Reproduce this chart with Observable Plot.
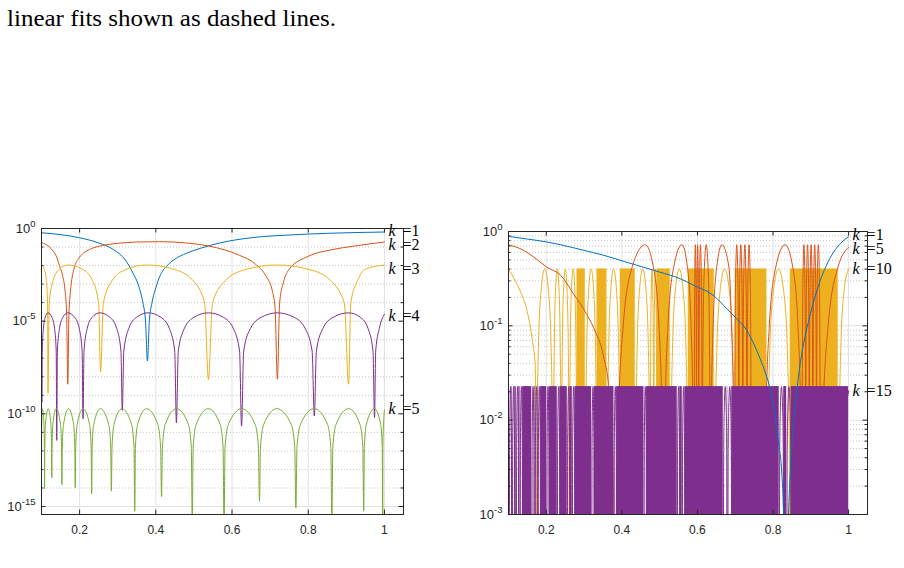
<!DOCTYPE html>
<html>
<head>
<meta charset="utf-8">
<script src="https://cdn.jsdelivr.net/npm/d3@7"></script>
<script src="https://cdn.jsdelivr.net/npm/@observablehq/plot@0.6"></script>
<style>
  html, body { margin: 0; padding: 0; background: #fff; }
  body { width: 904px; height: 568px; position: relative; overflow: hidden; }
  #caption { position: absolute; left: 0; top: 0; }
  #left { position: absolute; left: 0; top: 210px; }
  #right { position: absolute; left: 452px; top: 210px; }
</style>
</head>
<body>
<svg id="caption" width="904" height="40">
  <text x="7" y="26" font-family="'Liberation Serif', 'Times New Roman', serif" font-size="24" textLength="329" lengthAdjust="spacingAndGlyphs" fill="#000">linear fits shown as dashed lines.</text>
</svg>
<div id="left"></div>
<div id="right"></div>
<script>
// ---- shared axis values ----
const xTicks = [0.2, 0.4, 0.6, 0.8, 1];

// left panel: decades of |error|
const leftMajorExp = [0, -5, -10, -15];
const leftMinorExp = [-1, -2, -3, -4, -6, -7, -8, -9, -11, -12, -13, -14];

// right panel: decades and in-between values
const rightMajorExp = [0, -1, -2, -3];
const rightMinorVals = [0.002, 0.003, 0.004, 0.005, 0.006, 0.007, 0.008, 0.009,
                        0.02, 0.03, 0.04, 0.05, 0.06, 0.07, 0.08, 0.09,
                        0.2, 0.3, 0.4, 0.5, 0.6, 0.7, 0.8, 0.9];

// ---- left panel series: [x, log10 value] ----
const leftK1 = [[0.1,-0.23],[0.15,-0.33],[0.2,-0.5],[0.25,-0.78],[0.29,-1.15],[0.32,-1.7],[0.34,-2.4],[0.355,-3.1],[0.366,-4.0],[0.373,-5.0],[0.378,-7.15],[0.383,-5.0],[0.39,-4.0],[0.4,-3.2],[0.41,-2.6],[0.43,-2.0],[0.45,-1.65],[0.48,-1.34],[0.52,-1.05],[0.57,-0.77],[0.65,-0.5],[0.75,-0.35],[0.85,-0.26],[1.0,-0.19]];

const leftK2 = [[0.1,-0.75],[0.11,-0.85],[0.12,-0.98],[0.13,-1.2],[0.14,-1.55],[0.147,-2.0],[0.155,-2.5],[0.162,-3.4],[0.166,-4.6],[0.169,-8.4],[0.172,-4.6],[0.176,-3.4],[0.185,-2.2],[0.2,-1.55],[0.23,-1.1],[0.26,-0.92],[0.3,-0.8],[0.35,-0.73],[0.41,-0.71],[0.48,-0.78],[0.54,-0.95],[0.58,-1.15],[0.62,-1.45],[0.66,-1.9],[0.69,-2.6],[0.705,-3.3],[0.713,-4.3],[0.719,-8.13],[0.725,-4.0],[0.735,-2.9],[0.75,-2.2],[0.8,-1.5],[0.86,-1.15],[0.92,-0.95],[1.0,-0.73]];

const leftK3 = [[0.1,-1.97],[0.1076,-2.21],[0.1128,-2.81],[0.116,-4.03],[0.117,-8.9],[0.1202,-4.03],[0.1303,-2.81],[0.1462,-2.21],[0.17,-1.97],[0.2083,-2.21],[0.2338,-2.81],[0.2499,-4.03],[0.255,-7.74],[0.2623,-4.03],[0.2853,-2.81],[0.3216,-2.21],[0.376,-1.97],[0.4489,-2.21],[0.4975,-2.81],[0.5283,-4.03],[0.538,-8.15],[0.5487,-4.03],[0.5828,-2.81],[0.6366,-2.21],[0.717,-1.97],[0.802,-2.21],[0.8587,-2.81],[0.8947,-4.03],[0.906,-8.4],[0.9116,-4.03],[0.9295,-2.81],[0.9483,-2.21],[1.0,-1.97]];

const leftK4 = [[0.1,-7.0],[0.101,-9.36],
  [0.102,-6.61],[0.105,-5.39],[0.1098,-4.79],[0.117,-4.55],[0.1274,-4.79],[0.1342,-5.39],[0.1386,-6.61],[0.14,-11.43],
  [0.1417,-6.61],[0.1473,-5.39],[0.156,-4.79],[0.169,-4.55],[0.187,-4.79],[0.199,-5.39],[0.2066,-6.61],[0.209,-10.26],
  [0.2116,-6.61],[0.22,-5.39],[0.2332,-4.79],[0.253,-4.55],[0.2796,-4.79],[0.2973,-5.39],[0.3085,-6.61],[0.312,-9.81],
  [0.3161,-6.61],[0.329,-5.39],[0.3494,-4.79],[0.38,-4.55],[0.4133,-4.79],[0.4355,-5.39],[0.4496,-6.61],[0.454,-10.48],
  [0.459,-6.61],[0.475,-5.39],[0.5002,-4.79],[0.538,-4.55],[0.5772,-4.79],[0.6033,-5.39],[0.6198,-6.61],[0.625,-10.66],
  [0.6306,-6.61],[0.6485,-5.39],[0.6767,-4.79],[0.719,-4.55],[0.7627,-4.79],[0.7918,-5.39],[0.8102,-6.61],[0.816,-10.12],
  [0.8214,-6.61],[0.8385,-5.39],[0.8655,-4.79],[0.906,-4.55],[0.9366,-4.79],[0.957,-5.39],[0.9699,-6.61],[0.974,-10.2],
  [0.977,-6.61],[0.9865,-5.39],[1.0,-4.62]];

const leftK5 = [[0.1,-12.4],[0.1006,-10.56],[0.102,-9.72],[0.1065,-10.56],[0.1076,-11.78],[0.108,-14.04],
  [0.1086,-11.78],[0.1104,-10.56],[0.1176,-9.72],[0.1247,-10.56],[0.1264,-11.78],[0.127,-13.45],
  [0.1277,-11.78],[0.1299,-10.56],[0.1386,-9.72],[0.1498,-10.56],[0.1526,-11.78],[0.1535,-13.81],
  [0.1546,-11.78],[0.1579,-10.56],[0.171,-9.72],[0.1842,-10.56],[0.1875,-11.78],[0.1886,-13.99],
  [0.1898,-11.78],[0.1937,-10.56],[0.209,-9.72],[0.226,-10.56],[0.2302,-11.78],[0.2316,-14.31],
  [0.233,-11.78],[0.2373,-10.56],[0.2544,-9.72],[0.2762,-10.56],[0.2817,-11.78],[0.2834,-14.17],
  [0.2851,-11.78],[0.2903,-10.56],[0.311,-9.72],[0.3363,-10.56],[0.3427,-11.78],[0.3447,-15.25],
  [0.3465,-11.78],[0.3524,-10.56],[0.3755,-9.72],[0.4051,-10.56],[0.4126,-11.78],[0.415,-14.46],
  [0.4174,-11.78],[0.4249,-10.56],[0.4544,-9.72],[0.4853,-10.56],[0.4931,-11.78],[0.4956,-16],
  [0.4981,-11.78],[0.5061,-10.56],[0.5377,-9.72],[0.5687,-10.56],[0.5765,-11.78],[0.579,-16],
  [0.5818,-11.78],[0.5906,-10.56],[0.6255,-9.72],[0.6604,-10.56],[0.6692,-11.78],[0.672,-14.71],
  [0.6747,-11.78],[0.6834,-10.56],[0.7176,-9.72],[0.7551,-10.56],[0.7646,-11.78],[0.7676,-15.07],
  [0.7705,-11.78],[0.7797,-10.56],[0.8158,-9.72],[0.8505,-10.56],[0.8592,-11.78],[0.862,-16],
  [0.8646,-11.78],[0.873,-10.56],[0.906,-9.72],[0.9357,-10.56],[0.9432,-11.78],[0.9456,-15.25],
  [0.9473,-11.78],[0.9526,-10.56],[0.9737,-9.72],[0.9901,-10.56],[0.9942,-11.78],[0.9955,-16],
  [0.9959,-11.78],[0.9978,-10.5],[1.0,-9.78]];

// ---- right panel series: [x, log10 value] ----
const rightK1 = [[0.1,-0.052],[0.15,-0.08],[0.2,-0.11],[0.237,-0.14],[0.3,-0.2],[0.35,-0.25],[0.4135,-0.327],[0.5,-0.43],[0.554,-0.5],[0.59,-0.57],[0.643,-0.68],[0.678,-0.82],[0.705,-0.93],[0.731,-1.05],[0.75,-1.2],[0.766,-1.35],[0.78,-1.5],[0.793,-1.68],[0.805,-1.95],[0.815,-2.25],[0.823,-2.55],[0.828,-3.0],[0.8345,-4.5],[0.841,-3.0],[0.845,-2.6],[0.852,-2.15],[0.859,-1.83],[0.867,-1.55],[0.878,-1.25],[0.89,-1.02],[0.905,-0.78],[0.925,-0.52],[0.94,-0.37],[0.96,-0.22],[0.98,-0.12],[1.0,-0.055]];

const rightK5 = [[0.1,-0.14],[0.14,-0.2],[0.17,-0.28],[0.202,-0.38],[0.237,-0.46],[0.272,-0.66],[0.303,-0.85],[0.325,-1.02],[0.352,-1.33],[0.365,-1.63],[0.375,-2.2],[0.384,-4],
  [0.3891,-2.2],[0.4039,-0.98],[0.427,-0.38],[0.4619,-0.14],[0.4836,-0.38],[0.498,-0.98],[0.5071,-2.2],[0.51,-4],
  [0.5129,-2.2],[0.5223,-0.98],[0.537,-0.38],[0.559,-0.14],[0.5734,-0.38],[0.583,-0.98],[0.5891,-2.2],[0.5915,-4],
  [0.5919,-1.6],[0.5928,-0.55],[0.5945,-0.14],[0.5962,-0.55],[0.5971,-1.6],[0.5975,-4],
  [0.5979,-1.6],[0.5988,-0.55],[0.6005,-0.14],[0.6022,-0.55],[0.6031,-1.6],[0.6035,-4],
  [0.604,-1.6],[0.6055,-0.55],[0.608,-0.14],[0.6105,-0.55],[0.612,-1.6],[0.6125,-4],
  [0.6132,-2.2],[0.6152,-0.98],[0.6184,-0.38],[0.6232,-0.14],[0.6281,-0.38],[0.6313,-0.98],[0.6333,-2.2],[0.634,-4],
  [0.6358,-2.2],[0.6417,-0.98],[0.6509,-0.38],[0.6648,-0.14],[0.6833,-0.38],[0.6901,-0.98],[0.6965,-2.2],[0.6985,-4],
  [0.6991,-1.6],[0.7008,-0.55],[0.704,-0.14],[0.7072,-0.55],[0.7089,-1.6],[0.7095,-4],
  [0.7101,-1.6],[0.7118,-0.55],[0.7148,-0.14],[0.7177,-0.55],[0.7194,-1.6],[0.72,-4],
  [0.7206,-1.6],[0.7224,-0.55],[0.7255,-0.14],[0.7286,-0.55],[0.7304,-1.6],[0.731,-4],
  [0.7317,-1.6],[0.7335,-0.55],[0.7367,-0.14],[0.7398,-0.55],[0.7416,-1.6],[0.7423,-4],
  [0.7767,-4],
  [0.78,-2.2],[0.7905,-0.98],[0.8071,-0.38],[0.832,-0.14],[0.8523,-0.38],[0.8658,-0.98],[0.8743,-2.2],[0.877,-4],
  [0.8776,-1.6],[0.8791,-0.55],[0.8818,-0.14],[0.8844,-0.55],[0.8859,-1.6],[0.8865,-4],
  [0.8871,-1.6],[0.8886,-0.55],[0.8913,-0.14],[0.8939,-0.55],[0.8954,-1.6],[0.896,-4],
  [0.8966,-1.6],[0.8981,-0.55],[0.9008,-0.14],[0.9034,-0.55],[0.9049,-1.6],[0.9055,-4],
  [0.9061,-1.6],[0.9076,-0.55],[0.9103,-0.14],[0.9129,-0.55],[0.9144,-1.6],[0.915,-4],
  [0.9156,-1.6],[0.9172,-0.55],[0.92,-0.14],[0.9228,-0.55],[0.9244,-1.6],[0.925,-4],
  [0.9301,-2.2],[0.9463,-0.98],[0.9718,-0.38],[1.0,-0.17]];

const rightK10 = [[0.1,-0.397],[0.115,-0.5],[0.131,-0.63],[0.149,-0.84],[0.162,-1.12],[0.171,-1.44],[0.1735,-4],
  [0.1749,-2.46],[0.1791,-1.24],[0.1859,-0.64],[0.196,-0.397],[0.2061,-0.64],[0.2129,-1.24],[0.2171,-2.46],[0.2185,-4],
  [0.2191,-2.46],[0.2212,-1.24],[0.2243,-0.64],[0.2291,-0.397],[0.2339,-0.64],[0.237,-1.24],[0.2391,-2.46],[0.2397,-4],
  [0.2403,-2.46],[0.2423,-1.24],[0.2455,-0.64],[0.2503,-0.397],[0.255,-0.64],[0.2582,-1.24],[0.2602,-2.46],[0.2608,-4],
  [0.2614,-2.46],[0.2634,-1.24],[0.2664,-0.64],[0.271,-0.397],[0.2756,-0.64],[0.2786,-1.24],[0.2806,-2.46],[0.2812,-4],
  [0.3032,-4],[0.3041,-2.46],[0.3071,-1.24],[0.3117,-0.64],[0.3186,-0.397],[0.3256,-0.64],[0.3302,-1.24],[0.3332,-2.46],[0.3341,-4],
  [0.3606,-4],[0.3617,-2.46],[0.365,-1.24],[0.3703,-0.64],[0.3782,-0.397],[0.3861,-0.64],[0.3914,-1.24],[0.3947,-2.46],[0.3958,-4],
  [0.4354,-4],[0.4366,-2.46],[0.4404,-1.24],[0.4464,-0.64],[0.4553,-0.397],[0.4642,-0.64],[0.4701,-1.24],[0.4739,-2.46],[0.4751,-4],
  [0.4757,-1.9],[0.4771,-0.8],[0.4797,-0.397],[0.4824,-0.8],[0.4838,-1.9],[0.4844,-4],
  [0.485,-1.9],[0.4863,-0.8],[0.4886,-0.397],[0.4909,-0.8],[0.4922,-1.9],[0.4928,-4],
  [0.528,-4],[0.5294,-2.46],[0.534,-1.24],[0.5411,-0.64],[0.5518,-0.397],[0.5625,-0.64],[0.5697,-1.24],[0.5743,-2.46],[0.5757,-4],
  [0.6444,-4],[0.6461,-2.46],[0.6514,-1.24],[0.6597,-0.64],[0.672,-0.397],[0.6847,-0.64],[0.693,-1.24],[0.6983,-2.46],[0.7,-4],
  [0.7838,-4],[0.7856,-2.46],[0.7915,-1.24],[0.8007,-0.64],[0.8146,-0.397],[0.8285,-0.64],[0.8378,-1.24],[0.8436,-2.46],[0.8455,-4],
  [0.9725,-4],[0.9742,-2.46],[0.9794,-1.24],[0.9876,-0.64],[1.0,-0.397]];

// stretches where k = 10 oscillates faster than a pixel: [x from, x to]
const rightK10Dense = [[0.2812,0.3032],[0.3341,0.3606],[0.3958,0.4354],[0.4928,0.528],[0.5757,0.6444],[0.7,0.7838],[0.8455,0.9725]];
const rightK10Level = -0.397;

// k = 15: the few wider lobes that stay resolved
const rightK15 = [[0.1021,-4],[0.1031,-2.2],[0.1054,-1.644],[0.1077,-2.2],[0.1087,-4],
  [0.1101,-4],[0.1111,-2.2],[0.1134,-1.644],[0.1157,-2.2],[0.1167,-4],
  [0.1206,-4],[0.1216,-2.2],[0.1239,-1.644],[0.1262,-2.2],[0.1272,-4],
  [0.1307,-4],[0.1317,-2.2],[0.134,-1.644],[0.1363,-2.2],[0.1373,-4],
  [0.1616,-4],[0.1626,-2.2],[0.165,-1.644],[0.1673,-2.2],[0.1683,-4],
  [0.1704,-4],[0.1714,-2.2],[0.1737,-1.644],[0.176,-2.2],[0.177,-4],
  [0.1783,-4],[0.1793,-2.2],[0.1816,-1.644],[0.1839,-2.2],[0.1849,-4],
  [0.2013,-4],[0.2023,-2.2],[0.2046,-1.644],[0.2069,-2.2],[0.2079,-4],
  [0.2291,-4],[0.2301,-2.2],[0.2326,-1.644],[0.235,-2.2],[0.236,-4],
  [0.2556,-4],[0.2566,-2.2],[0.259,-1.644],[0.2614,-2.2],[0.2624,-4],
  [0.2688,-4],[0.2698,-2.2],[0.2723,-1.644],[0.2747,-2.2],[0.2757,-4],
  [0.3201,-4],[0.3211,-2.2],[0.3236,-1.644],[0.326,-2.2],[0.327,-4],
  [0.3791,-4],[0.3801,-2.2],[0.3826,-1.644],[0.385,-2.2],[0.386,-4],
  [0.4585,-4],[0.4595,-2.2],[0.4619,-1.644],[0.4643,-2.2],[0.4653,-4],
  [0.5466,-4],[0.5476,-2.2],[0.55,-1.644],[0.5524,-2.2],[0.5534,-4],
  [0.5598,-4],[0.5608,-2.2],[0.5633,-1.644],[0.5657,-2.2],[0.5667,-4],
  [0.6683,-4],[0.6695,-2.3],[0.6709,-1.9],[0.6736,-1.644],[0.6762,-1.9],[0.6776,-2.3],[0.6788,-4],
  [0.6801,-4],[0.6813,-2.3],[0.6827,-1.9],[0.6854,-1.644],[0.6881,-1.9],[0.6895,-2.3],[0.6907,-4],
  [0.8164,-4],[0.8177,-2.3],[0.8193,-1.9],[0.8224,-1.644],[0.8254,-1.9],[0.827,-2.3],[0.8283,-4],
  [0.8362,-4],[0.8375,-2.3],[0.8391,-1.9],[0.8422,-1.644],[0.8452,-1.9],[0.8468,-2.3],[0.8481,-4],
  [1.0,-1.69]];

const rightK15Dense = [[0.1,0.1021],[0.1087,0.1101],[0.1167,0.1206],[0.1272,0.1307],[0.1373,0.1616],[0.1683,0.1704],[0.177,0.1783],[0.1849,0.2013],[0.2079,0.2291],[0.236,0.2556],[0.2624,0.2688],[0.2757,0.3201],[0.327,0.3791],[0.386,0.4585],[0.4653,0.5466],[0.5534,0.5598],[0.5667,0.6683],[0.6788,0.6801],[0.6907,0.8164],[0.8283,0.8362],[0.8481,1.0]];
const rightK15Level = -1.644;
const floorExp = -4; // below the right panel's range: the zeros of each lobe

// ---- styling ----
const C = {blue: "#0072BD", red: "#D95319", yellow: "#EDB120", purple: "#7E2F8E", green: "#77AC30"};
const INK = "#262626";
const axisFont = "'Liberation Sans', Arial, Helvetica, sans-serif";
const serif = "'Liberation Serif', 'Times New Roman', serif";
const W = 452, H = 336;

const pts = arr => arr.map(([x, e]) => ({x, y: 10 ** e}));
const line = (arr, stroke) => Plot.line(pts(arr), {x: "x", y: "y", stroke, strokeWidth: 1, curve: "monotone-x", clip: true});
const dense = (bands, level, fill) => Plot.rect(bands, {x1: d => d[0], x2: d => d[1], y1: () => 10 ** floorExp, y2: () => 10 ** level, fill, clip: true});

// "k =n" tags beside each curve's right end; small vertical nudges (px) keep them legible
function curveLabels(series) {
  const rows = series.map(s => {
    const last = s.data[s.data.length - 1];
    return {x: last[0], y: 10 ** last[1], k: s.k, nudge: s.nudge || 0};
  });
  return [
    Plot.text(rows, {x: "x", y: "y", text: () => "k", dx: 4, dy: 0, textAnchor: "start", fontFamily: serif, fontStyle: "italic", fontSize: 16, fill: "#000",
      render: nudgeRender}),
    Plot.text(rows, {x: "x", y: "y", text: d => "=" + d.k, dx: 18, textAnchor: "start", fontFamily: serif, fontSize: 16, fill: "#000",
      render: nudgeRender})
  ];
}
function nudgeRender(index, scales, values, dimensions, context, next) {
  const g = next(index, scales, values, dimensions, context);
  const texts = g.querySelectorAll("text");
  index.forEach((i, j) => {
    const t = texts[j];
    if (t && this.data && this.data[i].nudge) {
      const y = +t.getAttribute("y");
      if (!isNaN(y) && t.hasAttribute("y")) t.setAttribute("y", y + this.data[i].nudge);
      else t.setAttribute("transform", (t.getAttribute("transform") || "") + ` translate(0,${this.data[i].nudge})`);
    }
  });
  return g;
}

function panel(cfg) {
  const fw = W - cfg.ml - cfg.mr, fh = H - cfg.mt - cfg.mb;
  const svg = Plot.plot({
    width: W, height: H,
    marginLeft: cfg.ml, marginRight: cfg.mr, marginTop: cfg.mt, marginBottom: cfg.mb,
    style: {background: "none", fontFamily: axisFont, fontSize: "12px", color: INK, overflow: "visible"},
    x: {domain: [0.1, 1.05], label: null},
    y: {type: "log", domain: cfg.yDomain, label: null},
    marks: [
      Plot.ruleY(cfg.minorGrid, {stroke: "#c6c6c6", strokeDasharray: "1,2"}),
      Plot.ruleY(cfg.major, {stroke: "#e2e2e2"}),
      Plot.ruleX(xTicks, {stroke: "#e2e2e2"}),
      ...cfg.marks,
      Plot.frame({stroke: INK}),
      Plot.tickX(xTicks, {stroke: INK, insetBottom: fh - 4.5}),
      Plot.tickX(xTicks, {stroke: INK, insetTop: fh - 4.5}),
      Plot.tickY(cfg.major, {stroke: INK, insetRight: fw - 4.5}),
      Plot.tickY(cfg.major, {stroke: INK, insetLeft: fw - 4.5}),
      Plot.tickY(cfg.minorTicks, {stroke: INK, insetRight: fw - 2.5}),
      Plot.tickY(cfg.minorTicks, {stroke: INK, insetLeft: fw - 2.5}),
      Plot.axisX(xTicks, {tickSize: 0, tickPadding: 11, tickFormat: d => String(d), label: null, fill: INK}),
      Plot.axisY(cfg.major, {tickSize: 0, tickPadding: 6, tickFormat: d => "10^" + Math.round(Math.log10(d)), label: null, fill: INK, fontSize: 13}),
      ...curveLabels(cfg.series)
    ]
  });
  // exponent as a raised, smaller run of text
  svg.querySelectorAll('[aria-label="y-axis tick label"] text').forEach(t => {
    const m = t.textContent.match(/^10\^(.*)$/);
    if (!m) return;
    t.textContent = "10";
    const sup = document.createElementNS("http://www.w3.org/2000/svg", "tspan");
    sup.setAttribute("dy", "-6");
    sup.setAttribute("font-size", "9.5");
    sup.textContent = m[1];
    t.appendChild(sup);
  });
  return svg;
}

const leftSeries = [
  {k: 1, data: leftK1, color: C.blue, nudge: -1},
  {k: 2, data: leftK2, color: C.red, nudge: 3},
  {k: 3, data: leftK3, color: C.yellow, nudge: 4},
  {k: 4, data: leftK4, color: C.purple, nudge: 2},
  {k: 5, data: leftK5, color: C.green, nudge: -1}
];

document.getElementById("left").appendChild(panel({
  ml: 41, mr: 49, mt: 18, mb: 32,
  yDomain: [10 ** -15.43, 1],
  major: leftMajorExp.map(e => 10 ** e),
  minorGrid: leftMinorExp.map(e => 10 ** e),
  minorTicks: leftMinorExp.map(e => 10 ** e),
  series: leftSeries,
  marks: leftSeries.map(s => line(s.data, s.color))
}));

const rightSeries = [
  {k: 1, data: rightK1, nudge: -1.5},
  {k: 5, data: rightK5, nudge: 1.5},
  {k: 10, data: rightK10},
  {k: 15, data: rightK15}
];

document.getElementById("right").appendChild(panel({
  ml: 56, mr: 37, mt: 21, mb: 32,
  yDomain: [1e-3, 1],
  major: rightMajorExp.map(e => 10 ** e),
  minorGrid: rightMinorVals,
  minorTicks: rightMinorVals,
  series: rightSeries,
  marks: [
    dense(rightK10Dense, rightK10Level, C.yellow),
    line(rightK10, C.yellow),
    line(rightK5, C.red),
    dense(rightK15Dense, rightK15Level, C.purple),
    line(rightK15, C.purple),
    line(rightK1, C.blue)
  ]
}));
</script>
</body>
</html>
